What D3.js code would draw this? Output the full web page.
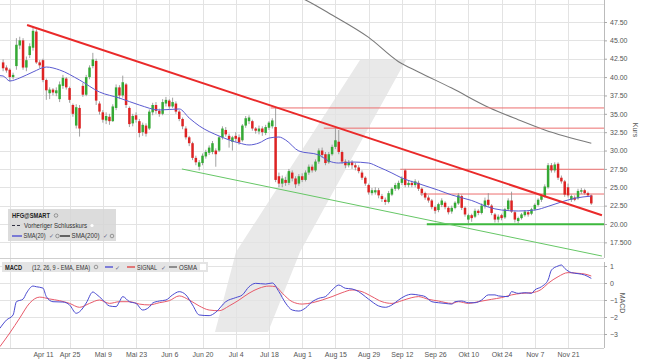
<!DOCTYPE html>
<html><head><meta charset="utf-8">
<script src="https://cdn.jsdelivr.net/npm/d3@7/dist/d3.min.js"></script>
<style>body{margin:0;background:#fff}svg{display:block;font-family:"Liberation Sans",Arial,sans-serif}</style>
</head><body><svg id="c" width="645" height="363"></svg>
<script>
// ---- DATA (trading-day index 0 = 24 Mar 2022 ... 177 = 30 Nov 2022) ----
const opens  = [42.0,41.3,41.0,40.0,41.5,44.3,45.0,41.3,43.0,44.0,46.2,42.0,42.3,39.6,37.8,38.3,37.8,37.0,38.8,39.8,
38.5,36.2,33.4,35.8,38.8,37.6,40.0,41.5,42.2,36.4,35.2,34.1,34.6,34.0,35.8,38.6,37.5,39.0,35.8,33.7,
34.8,34.0,32.5,33.4,33.0,35.2,36.2,35.4,35.0,36.4,36.8,36.0,36.4,35.3,34.3,33.0,31.8,31.0,29.0,27.8,
28.3,29.2,29.7,29.8,30.0,30.0,31.8,32.8,32.0,31.2,32.0,31.8,31.4,33.4,34.0,34.0,33.0,32.6,33.0,32.4,
33.1,33.3,33.2,26.5,25.5,26.0,25.6,27.0,26.2,25.5,26.5,26.0,27.0,27.8,27.3,28.5,30.0,29.5,28.4,29.5,
30.5,31.2,29.8,28.5,28.0,28.4,28.0,27.7,27.0,26.3,25.3,24.2,24.3,24.6,23.8,23.3,23.0,24.0,24.8,24.8,
25.6,27.3,25.3,25.6,25.3,25.6,24.8,24.2,23.6,23.2,22.3,21.9,22.6,22.9,22.2,21.7,22.2,22.8,23.8,22.2,
20.6,21.2,21.0,21.8,21.5,22.4,23.3,22.5,21.3,20.6,21.2,20.9,22.0,23.2,21.6,20.4,20.8,21.2,21.6,21.4,
22.0,22.6,23.3,23.8,25.0,28.0,27.3,28.2,26.3,25.8,25.0,23.3,23.6,23.5,24.4,24.6,24.2,23.9];
const highs  = [42.4,41.6,41.2,40.6,45.3,45.5,45.3,42.8,44.6,46.9,46.5,42.3,42.5,39.8,38.6,38.5,38.6,39.4,40.3,40.0,
38.7,36.4,36.3,36.2,39.2,40.3,41.6,43.3,42.5,36.7,35.5,35.2,35.0,36.3,39.0,38.9,40.2,39.2,36.0,35.0,
35.2,34.3,33.8,33.7,35.6,36.5,36.6,35.7,37.0,37.3,37.0,37.2,36.7,35.5,34.5,33.3,32.0,31.2,29.3,28.7,
29.6,30.1,30.7,31.3,30.3,32.0,33.3,33.2,32.3,32.0,32.5,32.2,33.6,34.7,34.8,34.2,33.2,33.4,33.3,33.5,
34.0,34.4,35.9,27.0,26.6,26.4,27.5,27.3,26.5,26.8,26.9,27.3,28.1,28.1,28.8,30.3,30.4,29.8,29.8,30.8,
33.1,32.8,30.0,28.8,28.7,28.7,28.3,28.0,27.3,26.5,25.5,24.9,25.0,24.9,24.1,23.6,24.5,25.0,25.6,25.9,
26.5,27.5,25.9,25.9,26.1,25.9,25.0,24.4,23.9,23.4,22.5,22.9,23.5,23.1,22.4,22.5,23.1,24.2,24.0,22.4,
21.4,21.4,22.1,22.0,22.8,23.6,24.2,22.7,21.5,21.3,21.4,22.2,23.5,24.4,21.8,21.0,21.5,21.9,21.8,22.2,
22.8,23.5,24.0,25.4,28.3,28.3,28.4,28.4,26.6,26.0,25.5,24.0,23.9,24.8,24.9,24.8,24.4,24.0];
const lows   = [40.8,40.6,39.4,39.7,41.0,43.8,41.0,40.8,42.6,43.6,41.8,41.2,39.3,36.9,37.0,37.5,37.4,36.6,38.4,38.3,
36.5,34.6,33.0,31.9,37.3,37.4,39.7,41.2,36.2,34.9,33.8,33.6,33.5,33.9,35.5,37.0,37.2,35.8,33.2,33.3,
33.8,31.8,32.0,31.9,32.8,34.8,35.0,34.6,34.8,36.0,35.7,35.8,35.0,34.0,32.9,31.5,30.6,28.7,28.0,27.3,
28.0,28.9,29.4,29.5,27.8,29.8,31.5,31.9,30.4,30.0,31.2,30.8,31.2,33.1,33.6,32.7,32.3,32.2,32.0,32.1,
32.8,33.0,25.7,25.0,25.0,25.2,25.3,25.8,24.9,25.2,25.7,25.8,26.7,27.0,27.1,28.2,29.0,28.0,28.2,29.3,
30.2,29.5,28.2,27.6,27.7,27.5,27.3,26.9,26.0,25.2,24.0,23.9,24.0,23.5,23.0,22.6,22.8,23.8,24.5,24.6,
25.3,25.0,25.0,25.0,25.0,24.5,23.8,23.3,22.9,22.0,21.4,21.6,22.3,22.0,21.3,21.4,22.0,22.6,21.9,21.0,
20.1,20.3,20.8,21.2,21.3,22.1,22.3,21.2,20.2,20.2,20.5,20.7,21.8,21.5,20.2,20.0,20.6,21.0,21.0,21.2,
21.8,22.4,23.0,23.6,24.8,27.0,27.0,26.0,25.5,23.7,23.6,23.0,23.1,23.3,24.1,24.0,23.7,22.6];
const closes = [41.2,40.9,40.0,40.3,44.4,45.0,41.3,42.3,44.2,46.3,42.0,41.6,39.6,38.2,38.3,37.9,38.2,39.0,39.9,38.6,
36.9,35.0,35.9,33.0,37.6,40.0,41.3,42.4,36.8,35.3,34.2,34.7,34.0,36.0,38.6,37.5,39.3,36.2,33.6,34.7,
34.2,32.4,33.5,32.3,35.3,36.2,35.4,35.0,36.6,36.9,36.0,36.6,35.3,34.3,33.3,31.8,31.0,29.0,28.4,28.4,
29.3,29.8,30.4,31.0,29.5,31.8,33.0,32.2,31.5,31.8,31.6,31.1,33.4,34.4,34.5,33.0,32.7,33.0,32.5,33.2,
33.8,34.1,26.0,25.5,26.2,25.6,27.2,26.2,25.4,26.5,26.0,27.0,27.8,27.3,28.5,30.0,29.4,28.3,29.5,30.5,
31.4,29.8,28.5,28.0,28.4,28.0,27.7,27.2,26.3,25.5,24.3,24.6,24.6,23.9,23.4,23.0,24.2,24.8,25.3,25.6,
26.2,25.3,25.6,25.3,25.8,24.8,24.2,23.6,23.2,22.3,21.8,22.7,23.2,22.3,21.6,22.2,22.9,23.9,22.2,21.3,
21.2,20.8,21.8,21.5,22.5,23.2,22.6,21.5,20.6,21.0,20.8,22.0,23.2,21.7,20.6,20.8,21.3,21.7,21.3,22.0,
22.6,23.3,23.8,25.1,28.0,27.3,28.1,26.3,25.8,24.0,23.9,23.8,23.3,24.5,24.6,24.2,23.9,22.8];

// SMA(20): [trading-day index, value]
const sma20 = [[-1,40.2],[0,40.15],[2,39.47],[5,39.88],[9,40.7],[13,41.37],[17,40.97],[23,39.6],[29,37.97],[35,37.15],
[41,36.2],[47,35.52],[53,35.66],[56,34.43],[59,33.36],[65,31.98],[71,31.03],[74,30.76],[77,31.03],[80,31.7],
[83,31.84],[85,31.44],[89,29.94],[95,29.4],[98,28.58],[101,28.3],[105,28.44],[110,28.3],[113,27.76],[117,26.94],
[120,26.26],[125,25.5],[131,24.6],[135,23.95],[141,23.2],[146,22.31],[150,21.9],[155,21.77],[160,21.9],[164,22.4],
[168,23.0],[172,23.5],[177,23.8]];
// SMA(200)
const sma200 = [[85,51.7],[91,50.5],[99,48.45],[110,45.4],[119,42.1],[125,40.7],[135,38.5],[146,35.9],[155,34.2],[163,32.8],[177,31.0]];

// MACD and signal: [trading-day index, value]
const macd = [[-1,-2.67],[1,-2.18],[3,-1.88],[4,-1.10],[6,-0.95],[7,-0.60],[9,-0.18],[10,-0.22],[12,-0.30],[13,-0.80],
[15,-1.10],[18,-1.12],[20,-1.29],[22,-1.78],[23,-1.69],[25,-1.18],[27,-0.53],[28,-0.65],[30,-1.00],[32,-1.35],
[34,-1.39],[35,-1.10],[36,-0.80],[38,-1.10],[40,-1.20],[42,-1.59],[44,-1.41],[45,-1.18],[47,-1.06],[49,-1.00],
[51,-0.70],[53,-0.51],[55,-0.70],[57,-1.29],[59,-1.88],[62,-1.92],[64,-1.72],[67,-1.10],[70,-0.86],[72,-0.70],
[74,-0.22],[76,-0.02],[79,-0.06],[81,0.0],[83,-0.51],[85,-1.18],[87,-1.59],[89,-1.65],[91,-1.47],[93,-1.10],
[95,-0.90],[97,-0.80],[99,-0.41],[101,-0.12],[103,-0.31],[105,-0.35],[107,-0.51],[109,-0.80],[111,-1.10],[113,-1.35],
[115,-1.43],[117,-1.29],[119,-1.00],[121,-0.76],[123,-0.66],[125,-0.71],[127,-0.80],[129,-1.10],[131,-1.16],[133,-1.20],
[135,-1.24],[136,-1.10],[138,-1.06],[140,-1.16],[142,-1.16],[144,-1.00],[146,-0.70],[148,-0.70],[149,-0.76],[152,-0.80],
[153,-0.51],[155,-0.61],[157,-0.57],[159,-0.61],[160,-0.41],[162,-0.22],[164,0.18],[165,0.76],[167,1.00],[168,1.06],
[169,0.86],[171,0.61],[173,0.55],[175,0.47],[177,0.27]];
const signal = [[-1,-3.75],[2,-2.94],[5,-2.06],[8,-1.18],[11,-0.83],[14,-0.94],[17,-1.04],[20,-1.20],[23,-1.43],[26,-1.20],
[29,-1.00],[32,-1.20],[35,-1.10],[38,-1.10],[41,-1.24],[44,-1.29],[47,-1.16],[50,-1.04],[53,-0.76],[56,-1.00],
[59,-1.35],[62,-1.59],[65,-1.63],[68,-1.35],[71,-1.00],[74,-0.60],[77,-0.31],[80,-0.18],[82,-0.22],[84,-0.60],
[87,-1.10],[90,-1.24],[93,-1.16],[96,-1.00],[99,-0.80],[102,-0.57],[105,-0.41],[108,-0.51],[111,-0.80],[114,-1.10],
[117,-1.20],[120,-1.04],[123,-0.86],[125,-0.80],[128,-0.96],[131,-1.06],[135,-1.20],[137,-1.10],[140,-1.20],[143,-1.10],
[147,-0.96],[150,-0.86],[153,-0.70],[156,-0.61],[159,-0.57],[162,-0.37],[164,-0.02],[167,0.37],[170,0.61],[173,0.57],
[175,0.53],[177,0.41]];

// drawn analysis lines
const resistanceTrend = [[7.2,47.1],[180.2,21.2]];
const supportTrend = [[53.8,27.49],[180.2,15.64]];
const hLevelsRed = [{from:80.5,v:35.8},{from:96.5,v:33.05},{from:119.5,v:27.45},{from:125.5,v:24.08}];
const hLevelGreen = {from:127.5,v:19.95};

// axes
const xTickIdx = [12,20,30,40,50,60,70,80,90,100,110,120,130,140,150,160,170];
const xTickLabels = ["Apr 11","Apr 25","Mai 9","Mai 23","Jun 6","Jun 20","Jul 4","Jul 18","Aug 1","Aug 15","Aug 29","Sep 12","Sep 26","Okt 10","Okt 24","Nov 7","Nov 21"];
const xGridExtra = [2];
const yTicks = [17.5,20,22.5,25,27.5,30,32.5,35,37.5,40,42.5,45,47.5];
const yTickLabels = ["17.500","20.00","22.50","25.00","27.50","30.00","32.50","35.00","37.50","40.00","42.50","45.00","47.50"];
const yGridExtra = [50];
const macdTicks = [-3,-2,-1,0,1];

// ---- LAYOUT ----
const svg = d3.select("#c");
const plotR = 604, mainTop = 0, mainBot = 258, macdTop = 259, macdBot = 348;
const x = d3.scaleLinear().domain([0,177]).range([3.12, 591.3]);
const y = d3.scaleLinear().domain([20,47.5]).range([224,22]);
const ym = d3.scaleLinear().domain([-3,1]).range([334,266]);

const defs = svg.append("defs");
defs.append("clipPath").attr("id","cm").append("rect").attr("x",0).attr("y",mainTop).attr("width",plotR).attr("height",mainBot-mainTop);
defs.append("clipPath").attr("id","cd").append("rect").attr("x",0).attr("y",macdTop).attr("width",plotR).attr("height",macdBot-macdTop);

// watermark
const wm = svg.append("g").attr("fill","#e9e9e9");
wm.append("path").attr("d","M360,60 L406,60 L300,252 L268,332 L215,332 L236,252 Z");

// grid
const grid = svg.append("g").attr("stroke","#e3e3e3").attr("stroke-width",1).attr("shape-rendering","crispEdges");
xTickIdx.concat(xGridExtra).forEach(d=>{
  const xx = Math.round(x(d))+0.5;
  grid.append("line").attr("x1",xx).attr("x2",xx).attr("y1",mainTop).attr("y2",mainBot);
  grid.append("line").attr("x1",xx).attr("x2",xx).attr("y1",macdTop).attr("y2",macdBot);
});
yTicks.concat(yGridExtra).forEach(d=>{
  const yy = Math.round(y(d))+0.5;
  grid.append("line").attr("x1",0).attr("x2",plotR).attr("y1",yy).attr("y2",yy);
});
macdTicks.forEach(d=>{
  const yy = Math.round(ym(d))+0.5;
  grid.append("line").attr("x1",0).attr("x2",plotR).attr("y1",yy).attr("y2",yy);
});
// panel separators
svg.append("line").attr("x1",0).attr("x2",plotR).attr("y1",mainBot+0.5).attr("y2",mainBot+0.5).attr("stroke","#cfcfcf");
svg.append("line").attr("x1",0).attr("x2",plotR).attr("y1",macdBot+0.5).attr("y2",macdBot+0.5).attr("stroke","#cfcfcf");

// main panel
const gm = svg.append("g").attr("clip-path","url(#cm)");
gm.append("path").datum(sma200).attr("fill","none").attr("stroke","#7a7a7a").attr("stroke-width",1.1)
  .attr("d", d3.line().x(d=>x(d[0])).y(d=>y(d[1])).curve(d3.curveMonotoneX));
hLevelsRed.forEach(h=>{
  gm.append("line").attr("x1",x(h.from)).attr("x2",plotR).attr("y1",y(h.v)).attr("y2",y(h.v))
    .attr("stroke","#ec6f6f").attr("stroke-width",1);
});
gm.append("line").attr("x1",x(hLevelGreen.from)).attr("x2",plotR).attr("y1",y(hLevelGreen.v)).attr("y2",y(hLevelGreen.v))
  .attr("stroke","#3db83d").attr("stroke-width",2);
gm.append("line").attr("x1",x(supportTrend[0][0])).attr("y1",y(supportTrend[0][1]))
  .attr("x2",x(supportTrend[1][0])).attr("y2",y(supportTrend[1][1])).attr("stroke","#66c766").attr("stroke-width",1);
const idx = d3.range(closes.length);
const cg = gm.append("g");
cg.selectAll("line.w").data(idx).join("line").attr("class","w")
  .attr("x1",i=>x(i)).attr("x2",i=>x(i)).attr("y1",i=>y(highs[i])).attr("y2",i=>y(lows[i]))
  .attr("stroke","#8a8a8a").attr("stroke-width",0.8);
cg.selectAll("rect").data(idx).join("rect")
  .attr("x",i=>x(i)-1.25).attr("width",2.5)
  .attr("y",i=>y(Math.max(opens[i],closes[i])))
  .attr("height",i=>Math.max(0.8, Math.abs(y(opens[i])-y(closes[i]))))
  .attr("fill",i=>closes[i]>=opens[i]?"#35a935":"#dd2323");
gm.append("path").datum(sma20).attr("fill","none").attr("stroke","#5b5bd1").attr("stroke-width",1)
  .attr("d", d3.line().x(d=>x(d[0])).y(d=>y(d[1])).curve(d3.curveMonotoneX));
gm.append("line").attr("x1",x(resistanceTrend[0][0])).attr("y1",y(resistanceTrend[0][1]))
  .attr("x2",x(resistanceTrend[1][0])).attr("y2",y(resistanceTrend[1][1])).attr("stroke","#ea2a2a").attr("stroke-width",2);

// MACD panel
const gd = svg.append("g").attr("clip-path","url(#cd)");
gd.append("path").datum(signal).attr("fill","none").attr("stroke","#e85a6a").attr("stroke-width",1)
  .attr("d", d3.line().x(d=>x(d[0])).y(d=>ym(d[1])).curve(d3.curveMonotoneX));
gd.append("path").datum(macd).attr("fill","none").attr("stroke","#4a4ad0").attr("stroke-width",1)
  .attr("d", d3.line().x(d=>x(d[0])).y(d=>ym(d[1])).curve(d3.curveMonotoneX));

// axes
const yAx = svg.append("g").attr("transform",`translate(${plotR},0)`)
  .call(d3.axisRight(y).tickValues(yTicks).tickFormat((d,i)=>yTickLabels[i]).tickSize(3).tickPadding(3));
yAx.select(".domain").attr("d",`M0.5,${mainTop}V${mainBot}`);
const mAx = svg.append("g").attr("transform",`translate(${plotR},0)`)
  .call(d3.axisRight(ym).tickValues(macdTicks).tickFormat(d3.format("d")).tickSize(3).tickPadding(3));
mAx.select(".domain").attr("d",`M0.5,${macdTop+3}V${macdBot}`);
const xAx = svg.append("g").attr("transform",`translate(0,${macdBot})`)
  .call(d3.axisBottom(x).tickValues(xTickIdx).tickFormat((d,i)=>xTickLabels[i]).tickSize(0).tickPadding(4));
xAx.select(".domain").remove();
[yAx,mAx,xAx].forEach(a=>{
  a.selectAll("text").attr("fill","#555").style("font-size","7px").style("font-family","Liberation Sans, Arial, sans-serif");
  a.selectAll("line").attr("stroke","#aaa");
  a.select(".domain").attr("stroke","#bbb");
});
svg.append("text").attr("transform","translate(633,130) rotate(90)").attr("text-anchor","middle")
  .attr("fill","#555").style("font-size","7px").text("Kurs");
svg.append("text").attr("transform","translate(620,303) rotate(90)").attr("text-anchor","middle")
  .attr("fill","#555").style("font-size","7px").text("MACD");

// legend main
function t(g, xx, yy, s, len, opts={}) {
  const e = g.append("text").attr("x",xx).attr("y",yy).attr("fill",opts.fill||"#333").text(s);
  if (len) e.attr("textLength",len).attr("lengthAdjust","spacingAndGlyphs");
  if (opts.bold) e.attr("font-weight","bold");
  return e;
}
const lg = svg.append("g").style("font-size","6.3px");
lg.append("rect").attr("x",8).attr("y",209).attr("width",108).attr("height",32).attr("fill","#d6d6d6").attr("opacity",0.85);
t(lg,12,217.5,"HFG@SMART",38,{bold:true,fill:"#222"});
lg.append("circle").attr("cx",56).attr("cy",215.5).attr("r",1.8).attr("fill","none").attr("stroke","#666").attr("stroke-width",0.6);
lg.append("line").attr("x1",12).attr("x2",22).attr("y1",225.5).attr("y2",225.5).attr("stroke","#334").attr("stroke-dasharray","3,2");
t(lg,24,227.5,"Vorheriger Schlusskurs",63);
lg.append("circle").attr("cx",92).attr("cy",225.5).attr("r",1.6).attr("fill","#fff");
lg.append("line").attr("x1",12).attr("x2",22).attr("y1",236).attr("y2",236).attr("stroke","#3a3ad0").attr("stroke-width",1.2);
t(lg,23.5,238,"SMA(20)",22);
t(lg,49,238,"✓",null,{fill:"#668"});
lg.append("circle").attr("cx",57.5).attr("cy",236).attr("r",1.8).attr("fill","none").attr("stroke","#666").attr("stroke-width",0.6);
lg.append("line").attr("x1",60).attr("x2",70).attr("y1",236).attr("y2",236).attr("stroke","#111").attr("stroke-width",1.2);
t(lg,71.5,238,"SMA(200)",28);
t(lg,103,238,"✓",null,{fill:"#668"});
lg.append("circle").attr("cx",112).attr("cy",236).attr("r",1.8).attr("fill","none").attr("stroke","#666").attr("stroke-width",0.6);

// legend MACD
const lm = svg.append("g").style("font-size","6.3px");
lm.append("rect").attr("x",2).attr("y",262).attr("width",206).attr("height",10).attr("fill","#e4e4e4");
t(lm,5,269.5,"MACD",17,{bold:true,fill:"#222"});
t(lm,32,269.5,"(12, 26, 9 - EMA, EMA)",58);
lm.append("circle").attr("cx",96).attr("cy",267).attr("r",1.8).attr("fill","none").attr("stroke","#666").attr("stroke-width",0.6);
lm.append("line").attr("x1",105).attr("x2",113).attr("y1",267).attr("y2",267).attr("stroke","#3a3ad0").attr("stroke-width",1.2);
t(lm,115,269.5,"✓",null,{fill:"#668"});
lm.append("line").attr("x1",127).attr("x2",135).attr("y1",267).attr("y2",267).attr("stroke","#e03030").attr("stroke-width",1.2);
t(lm,137,269.5,"SIGNAL",20);
t(lm,161,269.5,"✓",null,{fill:"#668"});
lm.append("line").attr("x1",169).attr("x2",177).attr("y1",267).attr("y2",267).attr("stroke","#555").attr("stroke-width",1.2);
t(lm,179,269.5,"OSMA",18);
lm.append("rect").attr("x",200).attr("y",264).attr("width",6).attr("height",6).attr("fill","#fff");
</script></body></html>
